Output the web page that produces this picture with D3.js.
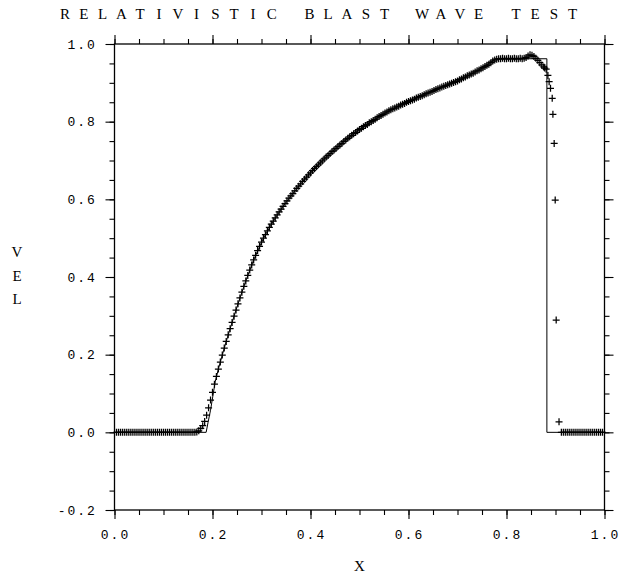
<!DOCTYPE html>
<html>
<head>
<meta charset="utf-8">
<script src="https://cdn.jsdelivr.net/npm/d3@7"></script>
<style>
  body { margin: 0; background: #fff; }
</style>
</head>
<body>
<div id="graph"></div>
<script>
const titleText = "RELATIVISTIC BLAST WAVE TEST";
const xLabel = "X";
const yLabel = "VEL";

const xTickValues = [0, 0.2, 0.4, 0.6, 0.8, 1.0];
const xTickLabels = ["0.0", "0.2", "0.4", "0.6", "0.8", "1.0"];
const yTickValues = [-0.2, 0, 0.2, 0.4, 0.6, 0.8, 1.0];
const yTickLabels = ["-0.2", "0.0", "0.2", "0.4", "0.6", "0.8", "1.0"];

// numerical solution: uniform cells from x = 0.004, step 0.004
const cellStart = 0.004, cellStep = 0.004;
const velCells = [
  0, 0, 0, 0, 0, 0, 0, 0, 0, 0,
  0, 0, 0, 0, 0, 0, 0, 0, 0, 0,
  0, 0, 0, 0, 0, 0, 0, 0, 0, 0,
  0, 0, 0, 0, 0, 0, 0, 0, 0, 0,
  0, 0.001, 0.004, 0.010, 0.017, 0.028, 0.044, 0.063, 0.083, 0.103,
  0.124, 0.144, 0.163, 0.181, 0.199, 0.217, 0.234, 0.251, 0.267, 0.283,
  0.299, 0.315, 0.331, 0.346, 0.361, 0.376, 0.390, 0.404, 0.418, 0.431,
  0.444, 0.456, 0.468, 0.479, 0.490, 0.500, 0.509, 0.519, 0.528, 0.536,
  0.544, 0.552, 0.560, 0.568, 0.575, 0.582, 0.589, 0.596, 0.603, 0.609,
  0.615, 0.622, 0.628, 0.634, 0.640, 0.646, 0.652, 0.657, 0.663, 0.668,
  0.674, 0.679, 0.684, 0.689, 0.694, 0.699, 0.704, 0.709, 0.713, 0.718,
  0.723, 0.727, 0.731, 0.736, 0.740, 0.744, 0.749, 0.753, 0.757, 0.761,
  0.765, 0.769, 0.772, 0.776, 0.780, 0.783, 0.787, 0.790, 0.793, 0.797,
  0.800, 0.803, 0.806, 0.810, 0.813, 0.816, 0.819, 0.822, 0.825, 0.828,
  0.831, 0.833, 0.835, 0.838, 0.840, 0.843, 0.845, 0.847, 0.850, 0.852,
  0.854, 0.856, 0.858, 0.861, 0.863, 0.865, 0.867, 0.869, 0.872, 0.874,
  0.876, 0.878, 0.880, 0.883, 0.885, 0.887, 0.889, 0.891, 0.893, 0.895,
  0.897, 0.899, 0.901, 0.903, 0.905, 0.908, 0.910, 0.913, 0.915, 0.918,
  0.920, 0.923, 0.925, 0.928, 0.931, 0.933, 0.936, 0.939, 0.942, 0.945,
  0.948, 0.952, 0.956, 0.959, 0.961, 0.962, 0.962, 0.963, 0.962, 0.962,
  0.963, 0.962, 0.962, 0.963, 0.962, 0.962, 0.963, 0.962, 0.963, 0.965,
  0.969, 0.972, 0.971, 0.968, 0.963, 0.958, 0.952
];

// refined cells through the shock
const shockX   = [0.872, 0.876, 0.878, 0.881, 0.8845, 0.887, 0.8898, 0.8933, 0.8947, 0.8973, 0.8994, 0.9014, 0.9072];
const shockVel = [0.946, 0.941, 0.938, 0.935, 0.919,  0.903, 0.886,  0.860,  0.819,  0.744,  0.598,  0.289,  0.027];

// undisturbed medium ahead of the shock
const rightStart = 0.912;
const velRight = [0, 0, 0, 0, 0, 0, 0, 0, 0, 0, 0, 0, 0, 0, 0, 0, 0, 0, 0, 0, 0, 0];

// exact solution
const exactX   = [0, 0.187, 0.191, 0.196, 0.2055, 0.212, 0.220, 0.228, 0.236, 0.244, 0.256, 0.268, 0.284, 0.304, 0.324, 0.344, 0.364, 0.384, 0.404, 0.424, 0.448, 0.472, 0.500, 0.524, 0.552, 0.580, 0.608, 0.636, 0.664, 0.696, 0.724, 0.752, 0.768, 0.778, 0.8824, 0.8824, 1.0];
const exactVel = [0, 0,     0.026, 0.057, 0.130,  0.163, 0.199, 0.234, 0.267, 0.299, 0.346, 0.390, 0.444, 0.500, 0.544, 0.582, 0.615, 0.646, 0.674, 0.699, 0.727, 0.753, 0.780, 0.800, 0.822, 0.840, 0.856, 0.872, 0.887, 0.903, 0.920, 0.939, 0.953, 0.962, 0.962,  0,      0];

const W = 619, H = 577;
const margin = { top: 44, right: 14.5, bottom: 67, left: 114.5 };
const width = W - margin.left - margin.right;
const height = H - margin.top - margin.bottom;

const points = [];
velCells.forEach((v, i) => points.push({ x: cellStart + i * cellStep, v: v }));
shockX.forEach((x, i) => points.push({ x: x, v: shockVel[i] }));
velRight.forEach((v, i) => points.push({ x: rightStart + i * cellStep, v: v }));

const exact = exactX.map((x, i) => ({ x: x, v: exactVel[i] }));

const xScale = d3.scaleLinear().domain([0, 1]).range([0, width]);
const yScale = d3.scaleLinear().domain([-0.2, 1.0]).range([height, 0]);

const svg = d3.select('#graph').append('svg')
    .attr('width', W)
    .attr('height', H)
    .style('display', 'block')
    .style('background', '#fff');

const g = svg.append('g')
    .attr('transform', `translate(${margin.left},${margin.top})`);

const xMinor = d3.range(0, 1.0001, 0.05);
const yMinor = d3.range(-0.2, 1.0001, 0.05);

function tickAxis(axisFn, scale, values, size) {
    return axisFn(scale).tickValues(values).tickSize(size).tickFormat('').tickSizeOuter(0);
}

const axes = [
    { fn: d3.axisBottom, s: xScale, t: `translate(0,${height})`, minor: xMinor, major: xTickValues },
    { fn: d3.axisTop, s: xScale, t: 'translate(0,0)', minor: xMinor, major: xTickValues },
    { fn: d3.axisLeft, s: yScale, t: 'translate(0,0)', minor: yMinor, major: yTickValues },
    { fn: d3.axisRight, s: yScale, t: `translate(${width},0)`, minor: yMinor, major: yTickValues }
];

axes.forEach(a => {
    [[a.minor, 5], [a.major, 9]].forEach(([vals, size]) => {
        const ax = g.append('g')
            .attr('transform', a.t)
            .call(tickAxis(a.fn, a.s, vals, size));
        ax.select('.domain').remove();
        ax.selectAll('line').attr('stroke', '#000').attr('stroke-width', 1.1);
    });
});

g.append('rect')
    .attr('x', 0).attr('y', 0)
    .attr('width', width).attr('height', height)
    .attr('fill', 'none')
    .attr('stroke', '#000')
    .attr('stroke-width', 1.3);

// exact solution line
const line = d3.line()
    .x(d => xScale(d.x))
    .y(d => yScale(d.v));

g.append('path')
    .datum(exact)
    .attr('d', line)
    .attr('fill', 'none')
    .attr('stroke', '#000')
    .attr('stroke-width', 1);

// numerical solution as plus markers
g.append('g').selectAll('path.pt')
    .data(points).enter()
    .append('path')
        .attr('class', 'pt')
        .attr('transform', d => `translate(${xScale(d.x)},${yScale(d.v)})`)
        .attr('d', 'M-3.5,0H3.5M0,-3.5V3.5')
        .attr('stroke', '#000')
        .attr('stroke-width', 1.25)
        .attr('fill', 'none');

// fixed-pitch text, like the original plotter output
function pitchText(parent, str, x, y, pitch, anchor, font, size) {
    const chars = str.split('');
    let x0;
    if (anchor === 'end') x0 = x - (chars.length - 1) * pitch;
    else if (anchor === 'middle') x0 = x - (chars.length - 1) * pitch / 2;
    else x0 = x;
    chars.forEach((c, i) => {
        if (c === ' ') return;
        parent.append('text')
            .attr('x', x0 + i * pitch)
            .attr('y', y)
            .attr('text-anchor', 'middle')
            .attr('font-family', font)
            .attr('font-size', size)
            .attr('fill', '#000')
            .text(c);
    });
}

const mono = '"Liberation Mono", "DejaVu Sans Mono", monospace';
const serif = '"Liberation Serif", "DejaVu Serif", serif';

xTickValues.forEach((v, i) => {
    pitchText(svg, xTickLabels[i], margin.left + xScale(v), 539, 9.8, 'middle', mono, 13);
});

yTickValues.forEach((v, i) => {
    pitchText(svg, yTickLabels[i], 91, margin.top + yScale(v) + 4.5, 9.8, 'end', mono, 13);
});

pitchText(svg, titleText, 65, 19, 18.8, 'start', serif, 15);

svg.append('text')
    .attr('x', margin.left + width / 2)
    .attr('y', 571)
    .attr('text-anchor', 'middle')
    .attr('font-family', serif)
    .attr('font-size', 15)
    .attr('fill', '#000')
    .text(xLabel);

yLabel.split('').forEach((c, i) => {
    svg.append('text')
        .attr('x', 17)
        .attr('y', 257 + i * 23.5)
        .attr('text-anchor', 'middle')
        .attr('font-family', serif)
        .attr('font-size', 15)
        .attr('fill', '#000')
        .text(c);
});
</script>
</body>
</html>
